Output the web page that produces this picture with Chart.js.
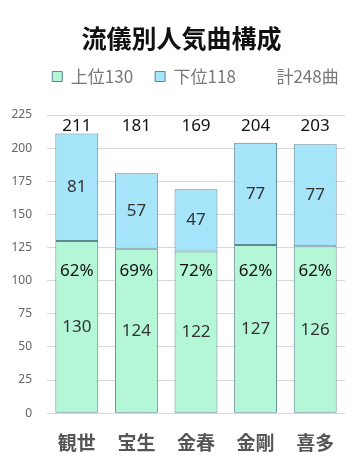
<!DOCTYPE html>
<html lang="ja">
<head>
<meta charset="UTF-8">
<title>流儀別人気曲構成</title>
<script src="https://cdn.jsdelivr.net/npm/chart.js@4.4.0/dist/chart.umd.min.js"></script>
<style>
  html, body { margin: 0; padding: 0; background: #fff; }
  .wrap { width: 363px; height: 463px; }
</style>
</head>
<body>
<div class="wrap"><canvas id="grafico" width="363" height="463"></canvas></div>
<script>
// dados
const ryugi = ['観世', '宝生', '金春', '金剛', '喜多'];
const joui = [130, 124, 122, 127, 126];
const kai = [81, 57, 47, 77, 77];
const legendTexts = ['上位130', '下位118', '計248曲'];
const yTicksMax = 225;

const green = '#b3f7d6';
const blue = '#a6e4fa';
const borda = '#5c8793';
const numFont = '"Noto Sans", "Open Sans", sans-serif';
const jpFont = '"Noto Sans CJK JP", "Noto Sans", sans-serif';

// espaco extra abaixo da legenda e legenda um pouco para a direita
const legendaAlta = {
  id: 'legendaAlta',
  beforeInit(chart) {
    const fit = chart.legend.fit;
    chart.legend.fit = function () {
      fit.bind(chart.legend)();
      this.height += 20;
    };
  },
  afterLayout(chart) {
    chart.legend.left += 14;
    chart.legend.right += 14;
  }
};

// rotulos desenhados por cima das barras
const rotulos = {
  id: 'rotulos',
  afterDatasetsDraw(chart) {
    const ctx = chart.ctx;
    const y = chart.scales.y;
    const m0 = chart.getDatasetMeta(0);
    ctx.save();
    ctx.textAlign = 'center';
    ctx.textBaseline = 'middle';
    ctx.font = '17px ' + numFont;
    for (let i = 0; i < ryugi.length; i++) {
      const x = m0.data[i].x;
      const total = joui[i] + kai[i];
      ctx.fillStyle = '#333';
      ctx.fillText(String(joui[i]), x, y.getPixelForValue(joui[i] / 2));
      ctx.fillText(String(kai[i]), x, y.getPixelForValue(joui[i] + kai[i] / 2));
      ctx.fillStyle = '#111';
      ctx.fillText(Math.round(joui[i] / total * 100) + '%', x, y.getPixelForValue(107.5));
      ctx.fillText(String(total), x, y.getPixelForValue(216.5));
    }
    ctx.restore();
  }
};

new Chart(document.getElementById('grafico'), {
  type: 'bar',
  data: {
    labels: ryugi,
    datasets: [{
      label: legendTexts[0],
      data: joui,
      backgroundColor: green,
      borderColor: borda,
      borderWidth: 1,
      borderSkipped: false,
      categoryPercentage: 0.72,
      barPercentage: 1
    }, {
      label: legendTexts[1],
      data: kai,
      backgroundColor: blue,
      borderColor: borda,
      borderWidth: 1,
      borderSkipped: false,
      categoryPercentage: 0.72,
      barPercentage: 1
    }]
  },
  options: {
    responsive: false,
    animation: false,
    layout: { padding: { left: 0, right: 0, top: 8, bottom: -1 } },
    plugins: {
      title: {
        display: true,
        text: '流儀別人気曲構成',
        color: '#111',
        font: { family: jpFont, size: 25, weight: 'bold' },
        padding: { top: 15, bottom: -7 }
      },
      legend: {
        display: true,
        labels: {
          boxWidth: 10,
          boxHeight: 10,
          padding: 22,
          color: '#777',
          font: { family: jpFont, size: 17 },
          generateLabels(chart) {
            return legendTexts.map((t, i) => ({
              text: t,
              fillStyle: i === 0 ? green : (i === 1 ? blue : 'rgba(0,0,0,0)'),
              strokeStyle: i < 2 ? borda : 'rgba(0,0,0,0)',
              lineWidth: 1,
              hidden: false,
              fontColor: '#777',
              datasetIndex: i < 2 ? i : undefined
            }));
          }
        },
        onClick() {}
      },
      tooltip: { enabled: false }
    },
    scales: {
      x: {
        stacked: true,
        grid: { display: false },
        border: { display: false },
        ticks: { color: '#555', font: { family: jpFont, size: 19, weight: 'bold' }, padding: 10, minRotation: 0, maxRotation: 0, autoSkip: false }
      },
      y: {
        stacked: true,
        min: 0,
        max: yTicksMax,
        ticks: { stepSize: 25, color: '#666', font: { family: numFont, size: 12 }, padding: 15 },
        grid: { color: '#d9d9d9', drawTicks: false },
        border: { display: false },
        afterFit(s) { s.width = 47; }
      },
      margem: {
        type: 'linear',
        position: 'right',
        grid: { display: false, drawTicks: false },
        border: { display: false },
        ticks: { display: false },
        afterFit(s) { s.width = 18; }
      }
    }
  },
  plugins: [legendaAlta, rotulos]
});
</script>
</body>
</html>
